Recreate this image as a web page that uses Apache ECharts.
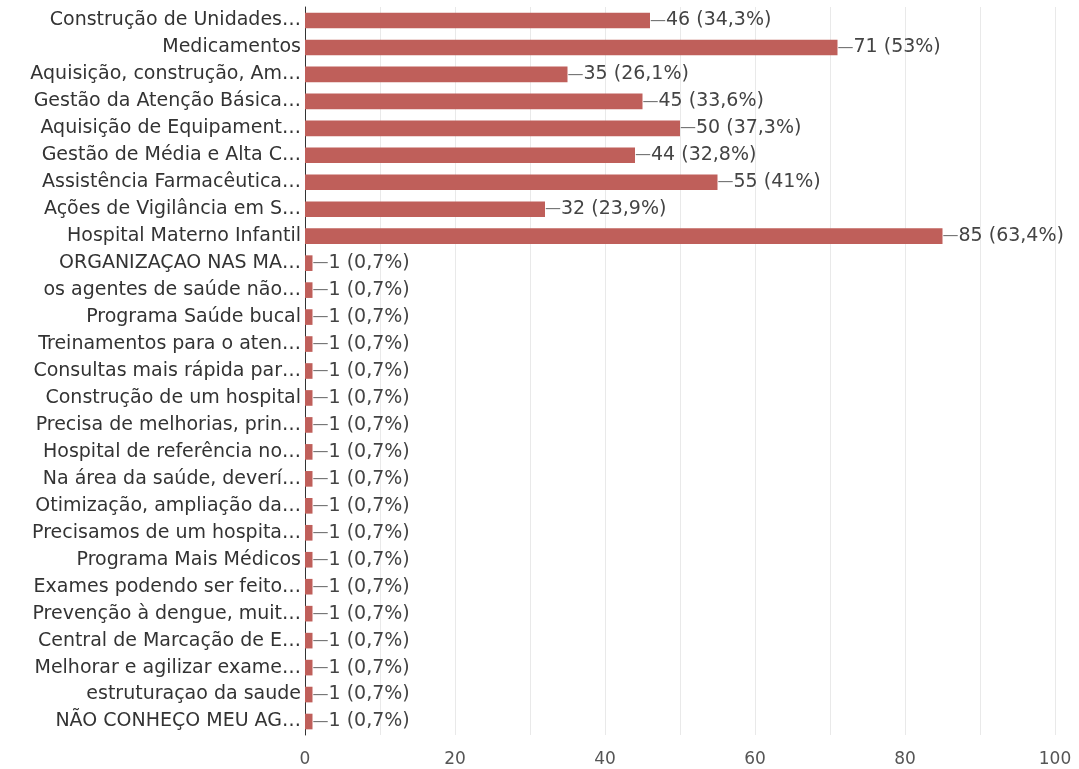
<!DOCTYPE html>
<html>
<head>
<meta charset="utf-8">
<script src="https://cdn.jsdelivr.net/npm/echarts@6/dist/echarts.min.js"></script>
<style>
  html, body { margin: 0; padding: 0; background: #fff; }
  #chart { width: 1079px; height: 769px; }
</style>
</head>
<body>
<div id="chart"></div>
<script>
  // answer categories (top to bottom, as shown)
  const categories = [
    'Construção de Unidades…',
    'Medicamentos',
    'Aquisição, construção, Am…',
    'Gestão da Atenção Básica…',
    'Aquisição de Equipament…',
    'Gestão de Média e Alta C…',
    'Assistência Farmacêutica…',
    'Ações de Vigilância em S…',
    'Hospital Materno Infantil',
    'ORGANIZAÇAO NAS MA…',
    'os agentes de saúde não…',
    'Programa Saúde bucal',
    'Treinamentos para o aten…',
    'Consultas mais rápida par…',
    'Construção de um hospital',
    'Precisa de melhorias, prin…',
    'Hospital de referência no…',
    'Na área da saúde, deverí…',
    'Otimização, ampliação da…',
    'Precisamos de um hospita…',
    'Programa Mais Médicos',
    'Exames podendo ser feito…',
    'Prevenção à dengue, muit…',
    'Central de Marcação de E…',
    'Melhorar e agilizar exame…',
    'estruturaçao da saude',
    'NÃO CONHEÇO MEU AG…'
  ]
  const counts = [46, 71, 35, 45, 50, 44, 55, 32, 85,
    1, 1, 1, 1, 1, 1, 1, 1, 1, 1, 1, 1, 1, 1, 1, 1, 1, 1]
  const totalResponses = 134
  const xTicks = [0, 20, 40, 60, 80, 100]

  const pct = v => String(Math.round(v / totalResponses * 1000) / 10).replace('.', ',')

  const chart = echarts.init(document.getElementById('chart'))
  chart.setOption({
    animation: false,
    textStyle: { fontFamily: 'DejaVu Sans, sans-serif' },
    grid: { left: 305, right: 24, top: 7, bottom: 34 },
    xAxis: {
      type: 'value',
      min: 0,
      max: 100,
      interval: 10,
      axisLine: { show: false },
      axisTick: { show: false },
      splitLine: { lineStyle: { color: '#e9e9e9', width: 1 } },
      axisLabel: {
        margin: 16,
        fontSize: 17,
        color: '#555',
        formatter: v => xTicks.includes(v) ? String(v) : ''
      }
    },
    yAxis: {
      type: 'category',
      inverse: true,
      data: categories,
      axisLine: { show: true, lineStyle: { color: '#333', width: 1 } },
      axisTick: { show: false },
      splitLine: { show: false },
      axisLabel: { margin: 4, fontSize: 19, color: '#333' }
    },
    series: [{
      type: 'bar',
      data: counts,
      barCategoryGap: '42%',
      itemStyle: { color: '#bf5f5a' },
      label: {
        show: true,
        position: 'right',
        distance: 0,
        formatter: p => '{d|—}{v|' + p.value + ' (' + pct(p.value) + '%)}',
        rich: {
          d: { fontSize: 16, color: '#777' },
          v: { fontSize: 19, color: '#444' }
        }
      }
    }]
  })
</script>
</body>
</html>
